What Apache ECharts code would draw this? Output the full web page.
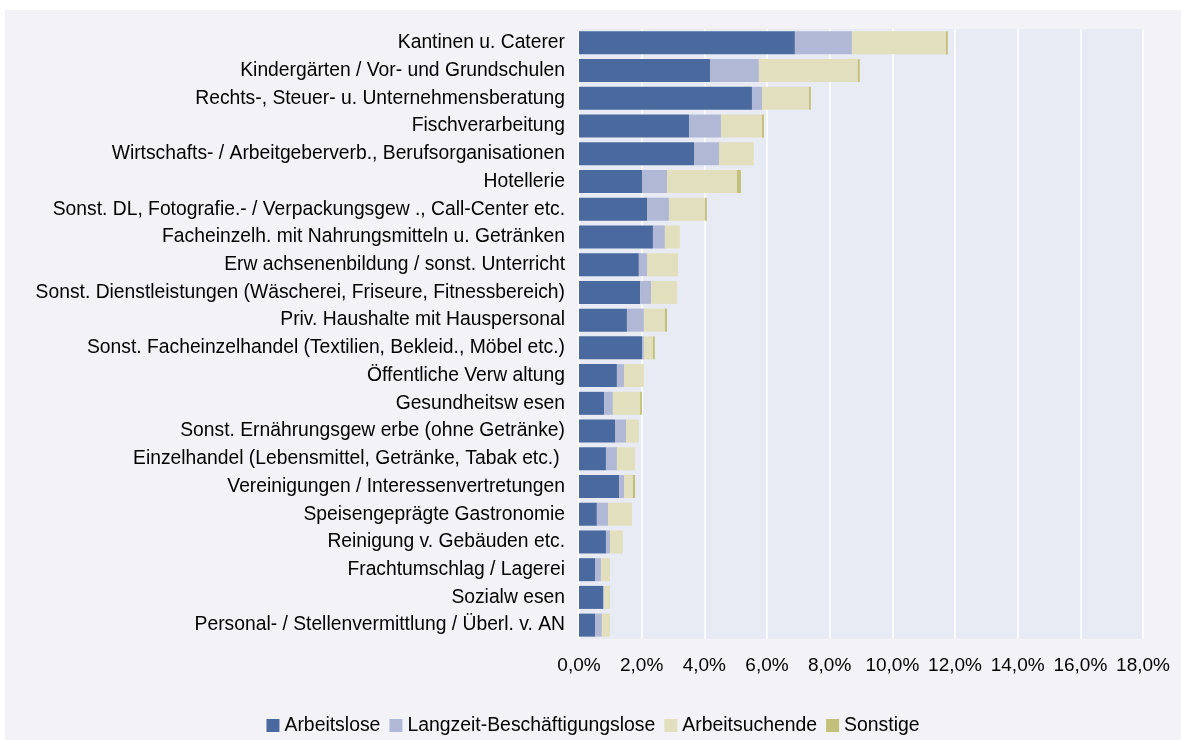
<!DOCTYPE html>
<html>
<head>
<meta charset="utf-8">
<script src="https://cdn.jsdelivr.net/npm/echarts@6/dist/echarts.min.js"></script>
<style>
  html, body { margin: 0; padding: 0; background: #ffffff; }
  #mychart { position: absolute; left: 5px; top: 10px; width: 1176px; height: 730px; background: #f3f2f7; }
</style>
</head>
<body>
<div id="mychart"></div>
<script>
// Branchen (von oben nach unten)
var categories = [
  "Kantinen u. Caterer",
  "Kindergärten / Vor- und Grundschulen",
  "Rechts-, Steuer- u. Unternehmensberatung",
  "Fischverarbeitung",
  "Wirtschafts- / Arbeitgeberverb., Berufsorganisationen",
  "Hotellerie",
  "Sonst. DL, Fotografie.- / Verpackungsgew ., Call-Center etc.",
  "Facheinzelh. mit Nahrungsmitteln u. Getränken",
  "Erw achsenenbildung / sonst. Unterricht",
  "Sonst. Dienstleistungen (Wäscherei, Friseure, Fitnessbereich)",
  "Priv. Haushalte mit Hauspersonal",
  "Sonst. Facheinzelhandel (Textilien, Bekleid., Möbel etc.)",
  "Öffentliche Verw altung",
  "Gesundheitsw esen",
  "Sonst. Ernährungsgew erbe (ohne Getränke)",
  "Einzelhandel (Lebensmittel, Getränke, Tabak etc.) ",
  "Vereinigungen / Interessenvertretungen",
  "Speisengeprägte Gastronomie",
  "Reinigung v. Gebäuden etc.",
  "Frachtumschlag / Lagerei",
  "Sozialw esen",
  "Personal- / Stellenvermittlung / Überl. v. AN"
];

var seriesNames = ["Arbeitslose", "Langzeit-Beschäftigungslose", "Arbeitsuchende", "Sonstige"];

// Anteile in %
var arbeitslose = [6.89, 4.18, 5.52, 3.51, 3.67, 2.01, 2.17, 2.36, 1.91, 1.95, 1.53, 2.01, 1.21, 0.80, 1.15, 0.86, 1.28, 0.57, 0.86, 0.51, 0.77, 0.51];
var langzeit    = [1.82, 1.56, 0.32, 1.02, 0.80, 0.80, 0.70, 0.38, 0.26, 0.35, 0.54, 0.06, 0.23, 0.28, 0.35, 0.35, 0.16, 0.36, 0.13, 0.19, 0.03, 0.22];
var suchende    = [3.00, 3.16, 1.50, 1.31, 1.11, 2.23, 1.15, 0.48, 0.99, 0.83, 0.67, 0.29, 0.63, 0.87, 0.41, 0.58, 0.28, 0.76, 0.41, 0.29, 0.19, 0.26];
var sonstige    = [0.06, 0.06, 0.06, 0.06, 0.00, 0.13, 0.06, 0.00, 0.00, 0.00, 0.07, 0.06, 0.00, 0.06, 0.00, 0.00, 0.07, 0.00, 0.00, 0.00, 0.00, 0.00];

var colors = ["#4a699e", "#b0b8d5", "#e2dfbe", "#c3c07c"];
var font = "Liberation Sans, Arial, sans-serif";

var allData = [arbeitslose, langzeit, suchende, sonstige];
var series = seriesNames.map(function (name, i) {
  return {
    name: name,
    type: "bar",
    stack: "total",
    barWidth: 23,
    itemStyle: { color: colors[i] },
    data: allData[i]
  };
});

var option = {
  animation: false,
  color: colors,
  grid: { left: 574, top: 19, width: 564, height: 610, show: true, backgroundColor: "#e8ebf3", borderWidth: 0 },
  legend: {
    data: seriesNames,
    top: 701,
    left: "center",
    itemWidth: 13,
    itemHeight: 13,
    itemGap: 9,
    icon: "rect",
    textStyle: { fontFamily: font, fontSize: 19.4, color: "#000" }
  },
  xAxis: {
    type: "value",
    min: 0,
    max: 18,
    interval: 2,
    axisLine: { show: false },
    axisTick: { show: false },
    splitLine: { show: true, lineStyle: { color: "#ffffff", width: 1.5 } },
    axisLabel: {
      margin: 17,
      fontFamily: font,
      fontSize: 19,
      color: "#000",
      formatter: function (v) { return v.toFixed(1).replace(".", ",") + "%"; }
    }
  },
  yAxis: {
    type: "category",
    inverse: true,
    data: categories,
    axisLine: { show: false },
    axisTick: { show: false },
    axisLabel: { margin: 14, fontFamily: font, fontSize: 19.3, color: "#000" }
  },
  series: series
};

var myChart = echarts.init(document.getElementById("mychart"));
myChart.setOption(option);
</script>
</body>
</html>
